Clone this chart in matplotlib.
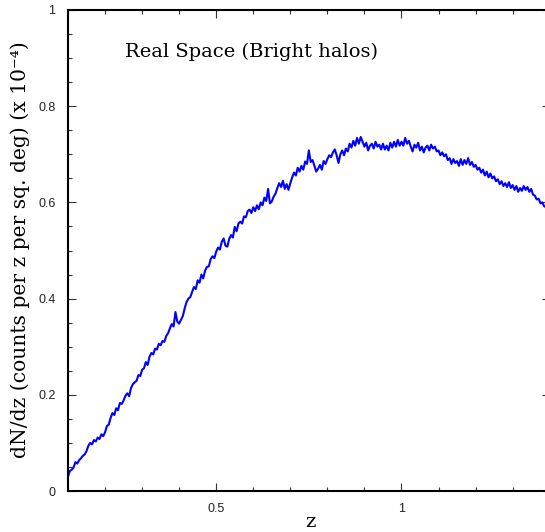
import numpy as np
import matplotlib
matplotlib.use("Agg")
import matplotlib.pyplot as plt
from matplotlib.ticker import MultipleLocator

# Redshift grid (step 0.005 from 0.1 to 1.4)
z_start = 0.1
z_step = 0.005

# dN/dz values (x 1e-4), one row per 0.05 in z
dndz = [
    0.030, 0.042, 0.044, 0.049, 0.060, 0.057, 0.064, 0.068, 0.073, 0.076,
    0.083, 0.094, 0.100, 0.097, 0.106, 0.103, 0.111, 0.108, 0.118, 0.114,
    0.122, 0.135, 0.138, 0.152, 0.162, 0.158, 0.172, 0.168, 0.183, 0.181,
    0.188, 0.198, 0.203, 0.197, 0.214, 0.222, 0.226, 0.229, 0.241, 0.239,
    0.252, 0.255, 0.268, 0.262, 0.279, 0.287, 0.284, 0.296, 0.294, 0.306,
    0.303, 0.312, 0.310, 0.322, 0.328, 0.338, 0.347, 0.342, 0.372, 0.352,
    0.348, 0.356, 0.364, 0.380, 0.393, 0.400, 0.403, 0.414, 0.424, 0.420,
    0.438, 0.433, 0.450, 0.442, 0.458, 0.466, 0.467, 0.482, 0.488, 0.484,
    0.498, 0.506, 0.502, 0.518, 0.525, 0.510, 0.508, 0.524, 0.532, 0.527,
    0.549, 0.540, 0.556, 0.560, 0.556, 0.571, 0.569, 0.582, 0.585, 0.578,
    0.590, 0.582, 0.594, 0.586, 0.600, 0.594, 0.610, 0.603, 0.628, 0.598,
    0.602, 0.612, 0.618, 0.630, 0.640, 0.632, 0.645, 0.628, 0.638, 0.626,
    0.640, 0.652, 0.662, 0.656, 0.672, 0.664, 0.676, 0.668, 0.685, 0.680,
    0.708, 0.684, 0.688, 0.676, 0.664, 0.670, 0.678, 0.668, 0.686, 0.680,
    0.690, 0.698, 0.694, 0.704, 0.710, 0.698, 0.682, 0.700, 0.708, 0.698,
    0.712, 0.706, 0.722, 0.714, 0.728, 0.718, 0.734, 0.722, 0.736, 0.726,
    0.716, 0.724, 0.708, 0.718, 0.722, 0.712, 0.726, 0.716, 0.720, 0.710,
    0.722, 0.710, 0.718, 0.708, 0.724, 0.714, 0.726, 0.716, 0.730, 0.718,
    0.726, 0.718, 0.734, 0.722, 0.728, 0.716, 0.706, 0.720, 0.714, 0.724,
    0.708, 0.716, 0.704, 0.714, 0.718, 0.708, 0.720, 0.712, 0.716, 0.706,
    0.708, 0.698, 0.704, 0.696, 0.700, 0.688, 0.692, 0.680, 0.690, 0.682,
    0.686, 0.676, 0.690, 0.678, 0.688, 0.680, 0.692, 0.678, 0.684, 0.674,
    0.678, 0.668, 0.672, 0.662, 0.668, 0.656, 0.664, 0.652, 0.660, 0.650,
    0.654, 0.644, 0.648, 0.638, 0.644, 0.634, 0.640, 0.632, 0.642, 0.630,
    0.636, 0.626, 0.634, 0.622, 0.630, 0.624, 0.634, 0.626, 0.632, 0.622,
    0.628, 0.616, 0.614, 0.606, 0.608, 0.598, 0.600, 0.592, 0.590, 0.584,
    0.580,
]
z = z_start + z_step * np.arange(len(dndz))

x_ticks = [0.5, 1.0]
x_ticklabels = ["0.5", "1"]
y_ticks = [0, 0.2, 0.4, 0.6, 0.8, 1.0]
y_ticklabels = ["0", "0.2", "0.4", "0.6", "0.8", "1"]

title_text = "Real Space (Bright halos)"
xlabel_text = "z"
ylabel_text = "dN/dz (counts per z per sq. deg) (x 10\u207b\u2074)"

fig = plt.figure(figsize=(5.45, 5.32), dpi=100)
ax = fig.add_axes([68 / 545, 1 - 491 / 532, (549.7 - 68) / 545, (491 - 10) / 532])

ax.plot(z, dndz, color="#0000ff", lw=1.5)

ax.set_xlim(0.1, 1.4)
ax.set_ylim(0, 1)

ax.set_xticks(x_ticks)
ax.set_xticklabels(x_ticklabels)
ax.set_yticks(y_ticks)
ax.set_yticklabels(y_ticklabels)
ax.xaxis.set_minor_locator(MultipleLocator(0.1))
ax.yaxis.set_minor_locator(MultipleLocator(0.05))

ax.tick_params(which="both", direction="in", top=True, right=True,
               width=0.8, colors="#333333", labelcolor="#222222")
ax.tick_params(which="major", length=6, labelsize=9, pad=9)
ax.tick_params(which="minor", length=3.2)
for lab in ax.get_xticklabels() + ax.get_yticklabels():
    lab.set_family("Liberation Sans")

for s in ax.spines.values():
    s.set_linewidth(1.5)

serif = "DejaVu Serif"
ax.text(0.1 + (125 - 68) / 370.5, 1 - (52 - 10) / 481, title_text,
        family=serif, fontsize=14, ha="left", va="center",
        transform=ax.transData)
fig.text(310 / 545, 1 - 522 / 532, xlabel_text, family=serif, fontsize=14,
         ha="center", va="center")
fig.text(20 / 545, 1 - 250 / 532, ylabel_text, family=serif, fontsize=14.6,
         ha="center", va="center", rotation=90)

fig.savefig("out.png", dpi=100)
